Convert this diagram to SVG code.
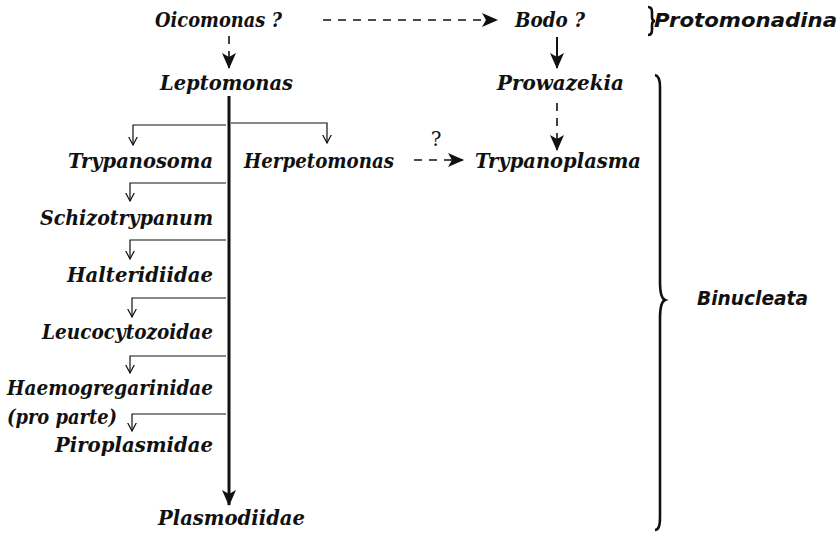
<svg xmlns="http://www.w3.org/2000/svg" width="837" height="535" viewBox="0 0 837 535">
<style>
.t{font-family:"DejaVu Serif","Liberation Serif",serif;font-weight:bold;font-style:italic;font-size:21px;fill:#111}
.s{font-family:"DejaVu Sans","Liberation Sans",sans-serif;font-weight:bold;font-style:italic;font-size:20px;fill:#111}
.q{font-family:"DejaVu Serif","Liberation Serif",serif;font-size:20px;fill:#111}
.thin{fill:none;stroke:#111;stroke-width:1.2}
.dash{fill:none;stroke:#111;stroke-width:1.6;stroke-dasharray:8 7}
.solid{fill:none;stroke:#111;stroke-width:2}
.brace{fill:none;stroke:#111;stroke-width:2.6}
</style>
<defs>
<marker id="af" viewBox="0 0 16 14" refX="15" refY="7" markerWidth="16" markerHeight="14" markerUnits="userSpaceOnUse" orient="auto">
<path d="M0,0 L16,7 L0,14 L4,7 z" fill="#111"/>
</marker>
<marker id="ao" viewBox="0 0 9 10" refX="8.5" refY="5" markerWidth="9" markerHeight="10" markerUnits="userSpaceOnUse" orient="auto">
<path d="M0,0.5 L8.5,5 L0,9.5" fill="none" stroke="#111" stroke-width="1.2"/>
</marker>
</defs>

<g id="connectors">
<path class="dash" d="M229,36 V68" marker-end="url(#af)" stroke-width="2"/>
<path class="dash" d="M323,20 H497" marker-end="url(#af)"/>
<path class="solid" d="M557,37 V68" marker-end="url(#af)"/>
<path class="dash" d="M557,103 V150" marker-end="url(#af)"/>
<path class="dash" d="M414,160 H463" marker-end="url(#af)"/>
<path d="M229,96 V505" fill="none" stroke="#111" stroke-width="3" marker-end="url(#af)"/>
<path class="thin" d="M226,125 H133 V145" marker-end="url(#ao)"/>
<path class="thin" d="M231,123 H327 V143" marker-end="url(#ao)"/>
<path class="thin" d="M226,183 H130 V201" marker-end="url(#ao)"/>
<path class="thin" d="M226,240 H130 V259" marker-end="url(#ao)"/>
<path class="thin" d="M226,298 H132 V317" marker-end="url(#ao)"/>
<path class="thin" d="M226,356 H130 V373" marker-end="url(#ao)"/>
<path class="thin" d="M226,414 H132 V431" marker-end="url(#ao)"/>
</g>

<g id="oicomonas"><text class="t" x="155" y="27" textLength="127" lengthAdjust="spacingAndGlyphs">Oicomonas ?</text></g>
<g id="bodo"><text class="t" x="515" y="27" textLength="70" lengthAdjust="spacingAndGlyphs">Bodo ?</text></g>
<g id="protomonadina">
<path class="brace" d="M648,7 q4,0 4,5 v5 q0,4 3,4 q-3,0 -3,4 v5 q0,5 -4,5" stroke-width="1.8"/>
<text class="s" x="654" y="27" textLength="183" lengthAdjust="spacingAndGlyphs">Protomonadina</text>
</g>
<g id="leptomonas"><text class="t" x="160" y="90" textLength="133" lengthAdjust="spacingAndGlyphs">Leptomonas</text></g>
<g id="prowazekia"><text class="t" x="497" y="90" textLength="127" lengthAdjust="spacingAndGlyphs">Prowazekia</text></g>
<g id="trypanosoma"><text class="t" x="213" y="168" text-anchor="end" textLength="145" lengthAdjust="spacingAndGlyphs">Trypanosoma</text></g>
<g id="herpetomonas"><text class="t" x="244" y="168" textLength="150" lengthAdjust="spacingAndGlyphs">Herpetomonas</text></g>
<g id="question"><text class="q" x="436" y="146" text-anchor="middle">?</text></g>
<g id="trypanoplasma"><text class="t" x="475" y="168" textLength="166" lengthAdjust="spacingAndGlyphs">Trypanoplasma</text></g>
<g id="schizotrypanum"><text class="t" x="213" y="225" text-anchor="end" textLength="173" lengthAdjust="spacingAndGlyphs">Schizotrypanum</text></g>
<g id="halteridiidae"><text class="t" x="213" y="282" text-anchor="end" textLength="146" lengthAdjust="spacingAndGlyphs">Halteridiidae</text></g>
<g id="leucocytozoidae"><text class="t" x="213" y="339" text-anchor="end" textLength="171" lengthAdjust="spacingAndGlyphs">Leucocytozoidae</text></g>
<g id="haemogregarinidae">
<text class="t" x="213" y="395" text-anchor="end" textLength="206" lengthAdjust="spacingAndGlyphs">Haemogregarinidae</text>
<text class="t" x="7" y="424" textLength="110" lengthAdjust="spacingAndGlyphs">(pro parte)</text>
</g>
<g id="piroplasmidae"><text class="t" x="213" y="452" text-anchor="end" textLength="158" lengthAdjust="spacingAndGlyphs">Piroplasmidae</text></g>
<g id="plasmodiidae"><text class="t" x="158" y="525" textLength="147" lengthAdjust="spacingAndGlyphs">Plasmodiidae</text></g>
<g id="binucleata">
<path class="brace" d="M655,75 q5,1 5,12 v195 q0,16 5,18 q-5,2 -5,18 v200 q0,12 -5,12"/>
<text class="s" x="697" y="305" textLength="111" lengthAdjust="spacingAndGlyphs">Binucleata</text>
</g>
</svg>
